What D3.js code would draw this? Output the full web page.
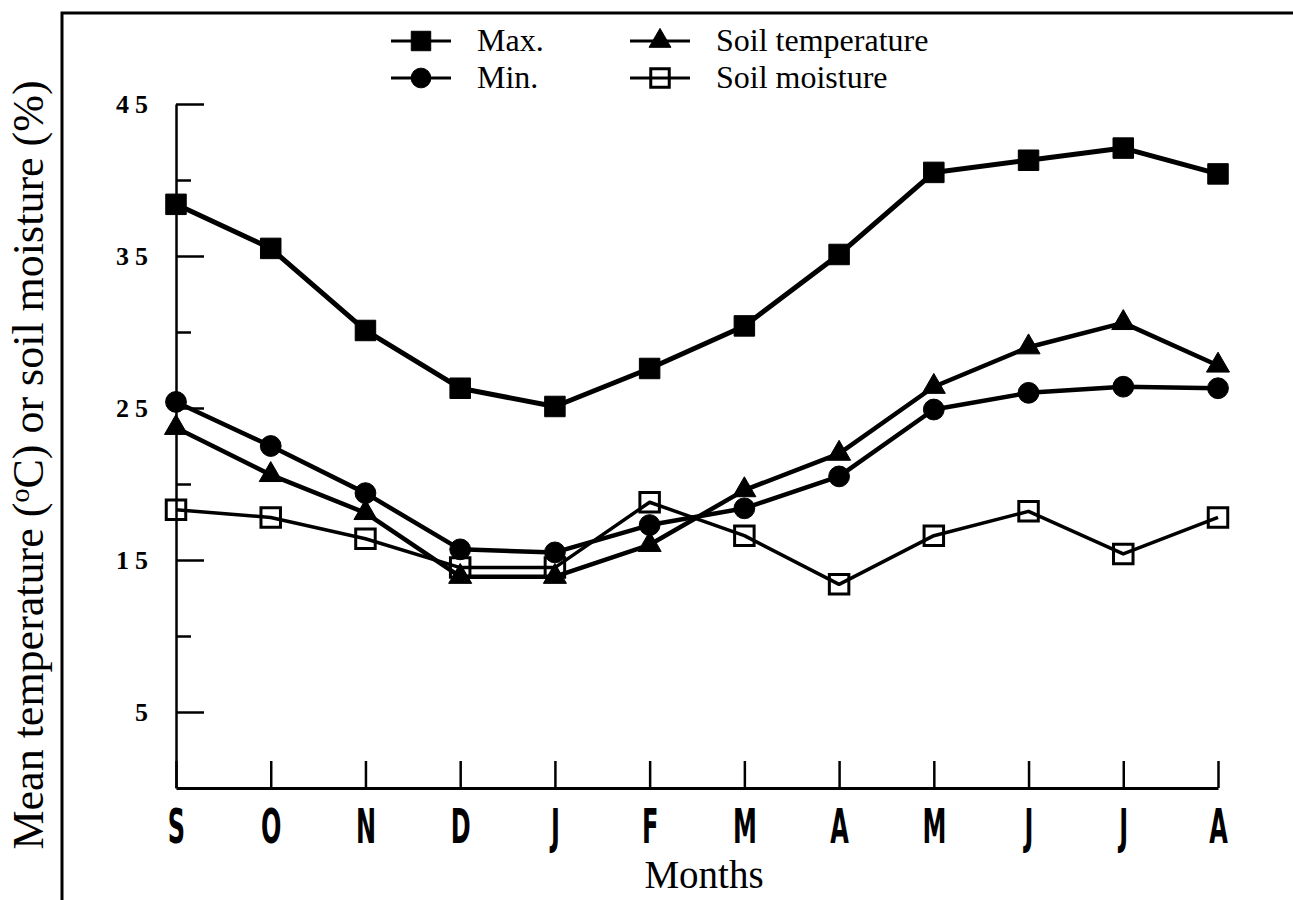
<!DOCTYPE html>
<html>
<head>
<meta charset="utf-8">
<script src="https://cdn.jsdelivr.net/npm/d3@7/dist/d3.min.js"></script>
<style>
  body { margin: 0; background: #fff; }
  svg { display: block; }
</style>
</head>
<body>
<script>
// values
var months = ["S","O","N","D","J","F","M","A","M","J","J","A"];
var maxTemp   = [38.4, 35.5, 30.1, 26.3, 25.1, 27.6, 30.4, 35.1, 40.5, 41.3, 42.1, 40.4];
var minTemp   = [25.4, 22.5, 19.4, 15.7, 15.5, 17.3, 18.4, 20.5, 24.9, 26.0, 26.4, 26.3];
var soilTemp  = [23.7, 20.6, 18.1, 13.9, 13.9, 16.0, 19.6, 22.0, 26.4, 29.0, 30.6, 27.8];
var soilMoist = [18.3, 17.8, 16.4, 14.5, 14.5, 18.8, 16.6, 13.4, 16.6, 18.2, 15.4, 17.8];
var majorTicks = [5, 15, 25, 35, 45];
var minorTicks = [10, 20, 30, 40];

var width = 1293, height = 900;

var svg = d3.select("body").append("svg").attr("width", width).attr("height", height);

// outer frame (left + top edge of the scanned box)
svg.append("path").attr("d", "M62,900V13H1293").attr("fill", "none")
   .attr("stroke", "#000").attr("stroke-width", 3);

var x = d3.scalePoint().domain(d3.range(months.length)).range([176, 1218]);
var y = d3.scaleLinear().domain([0, 45]).range([788, 104]);

// y axis: long ticks with labels, short ticks between
var yMajor = d3.axisLeft(y).tickValues(majorTicks).tickSizeInner(-28).tickSizeOuter(0).tickPadding(22);
var yMinor = d3.axisLeft(y).tickValues(minorTicks).tickSizeInner(-15).tickSizeOuter(0).tickFormat("");

var gy = svg.append("g").attr("transform", "translate(176,0)").call(yMajor);
svg.append("g").attr("transform", "translate(176,0)").call(yMinor).select(".domain").remove();
svg.selectAll("g .tick line").attr("stroke", "#000").attr("stroke-width", 2.5);
gy.select(".domain").attr("stroke", "#000").attr("stroke-width", 2.5);
gy.selectAll(".tick text")
  .attr("fill", "#000")
  .style("font-family", "'Liberation Serif', serif")
  .style("font-weight", "bold")
  .style("font-size", "26px")
  .style("letter-spacing", "6px");

// x axis: ticks point up into the plot
var xAxis = d3.axisBottom(x).tickSizeInner(-27).tickSizeOuter(0)
              .tickFormat(function(i){ return months[i]; });
var gx = svg.append("g").attr("transform", "translate(0,788)").call(xAxis);
gx.select(".domain").attr("stroke", "#000").attr("stroke-width", 3);
gx.selectAll(".tick line").attr("stroke", "#000").attr("stroke-width", 2.5);
gx.selectAll(".tick text")
  .attr("fill", "#000")
  .attr("y", 55).attr("dy", 0)
  .attr("transform", "scale(0.5,1)")
  .style("font-family", "'DejaVu Sans', sans-serif")
  .style("font-weight", "bold")
  .style("font-size", "48px");

// axis titles
var yTitle = svg.append("text")
  .attr("transform", "translate(43,465) rotate(-90)")
  .attr("text-anchor", "middle")
  .style("font-family", "'Liberation Serif', serif")
  .style("font-size", "44px");
yTitle.append("tspan").text("Mean temperature (");
yTitle.append("tspan").attr("dy", -14).style("font-size", "28px").text("o");
yTitle.append("tspan").attr("dy", 14).text("C) or soil moisture (%)");

svg.append("text").attr("x", 704).attr("y", 888).attr("text-anchor", "middle")
  .style("font-family", "'Liberation Serif', serif").style("font-size", "39px")
  .text("Months");

// series
var series = [
  {name: "Max.", values: maxTemp, symbol: d3.symbolSquare, size: 420, fill: "#000", sw: 5},
  {name: "Min.", values: minTemp, symbol: d3.symbolCircle, size: 340, fill: "#000", sw: 4.5},
  {name: "Soil temperature", values: soilTemp, symbol: d3.symbolTriangle, size: 230, fill: "#000", sw: 4.5},
  {name: "Soil moisture", values: soilMoist, symbol: d3.symbolSquare, size: 380, fill: "none", sw: 3.5}
];

var line = d3.line()
  .x(function(d, i){ return x(i); })
  .y(function(d){ return y(d); });

series.forEach(function(s){
  svg.append("path").attr("d", line(s.values)).attr("fill", "none")
     .attr("stroke", "#000").attr("stroke-width", s.sw).attr("stroke-linejoin", "round");
});

series.forEach(function(s){
  svg.selectAll(null).data(s.values).enter().append("path")
     .attr("transform", function(d, i){ return "translate(" + x(i) + "," + y(d) + ")"; })
     .attr("d", d3.symbol().type(s.symbol).size(s.size))
     .attr("fill", s.fill)
     .attr("stroke", "#000")
     .attr("stroke-width", s.fill == "none" ? 3 : 1);
});

// legend, two columns
var legendPos = [
  {x: 421, y: 41}, {x: 421, y: 78}, {x: 660, y: 41}, {x: 660, y: 78}
];
series.forEach(function(s, k){
  var p = legendPos[k];
  var g = svg.append("g").attr("transform", "translate(" + p.x + "," + p.y + ")");
  g.append("line").attr("x1", -30).attr("x2", 30).attr("stroke", "#000").attr("stroke-width", 3);
  g.append("path").attr("d", d3.symbol().type(s.symbol).size(s.size * 0.9))
   .attr("fill", s.fill).attr("stroke", "#000").attr("stroke-width", s.fill == "none" ? 3 : 1);
  g.append("text").attr("x", 56).attr("y", 10)
   .style("font-family", "'Liberation Serif', serif").style("font-size", "32px")
   .text(s.name);
});
</script>
</body>
</html>
